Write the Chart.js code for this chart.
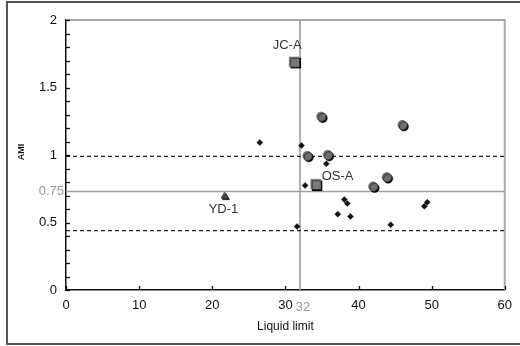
<!DOCTYPE html>
<html><head><meta charset="utf-8">
<script src="https://cdn.jsdelivr.net/npm/chart.js@4/dist/chart.umd.min.js"></script>
<style>html,body{margin:0;padding:0;background:#fff}</style>
</head><body>
<canvas id="c" width="520" height="346"></canvas>
<script>
// ---- data ----
const xTickValues = [0, 10, 20, 30, 40, 50, 60];
const yTickLabels = [0, 0.5, 1, 1.5, 2];
const smallX = [26.5, 32.2, 35.6, 32.7, 38.06, 38.47, 37.16, 38.9, 31.6, 49.0, 49.4, 44.4];
const smallY = [1.092, 1.07, 0.935, 0.774, 0.670, 0.641, 0.562, 0.545, 0.47, 0.62, 0.65, 0.483];
const circleX = [34.9, 46.0, 33.0, 35.8, 43.85, 42.0];
const circleY = [1.285, 1.223, 0.994, 1.001, 0.836, 0.767];
const siteNames = ['JC-A', 'OS-A'];
const siteX = [31.2, 34.15];
const siteY = [1.69, 0.784];
const refNames = ['YD-1'];
const refX = [21.67];
const refY = [0.695];
const vLineValue = 32, vLineLabel = '32';
const hLineValue = 0.73, hLineLabel = '0.75';
const dashUpper = 0.99, dashLower = 0.44;

const FONT = '"Liberation Sans", Arial, sans-serif';
const zip = (xs, ys) => xs.map((x, i) => ({x, y: ys[i]}));

const shadowPlugin = {
  id: 'shadow',
  beforeDatasetDraw(chart, args) {
    const ds = chart.data.datasets[args.index];
    chart.ctx.save();
    if (ds.shadow) {
      chart.ctx.shadowColor = 'rgba(0,0,0,0.95)';
      chart.ctx.shadowOffsetX = 1.5;
      chart.ctx.shadowOffsetY = 1.5;
      chart.ctx.shadowBlur = 0.5;
    }
  },
  afterDatasetDraw(chart) { chart.ctx.restore(); }
};

const decorPlugin = {
  id: 'decor',
  beforeDraw(chart) {
    const c = chart.ctx;
    c.save();
    c.fillStyle = '#fff';
    c.fillRect(0, 0, chart.width, chart.height);
    c.strokeStyle = '#555';
    c.lineWidth = 2;
    c.strokeRect(7, 2, 540, 342);
    c.restore();
  },
  beforeDatasetsDraw(chart) {
    const c = chart.ctx, a = chart.chartArea;
    const xs = chart.scales.x, ys = chart.scales.y;
    c.save();
    // plot frame top/right (gray)
    c.strokeStyle = '#aaa';
    c.lineWidth = 2;
    c.beginPath();
    c.moveTo(a.left, a.top); c.lineTo(a.right, a.top); c.lineTo(a.right, a.bottom);
    c.stroke();
    // reference lines
    c.strokeStyle = '#a0a0a0';
    c.lineWidth = 1.6;
    const vx = xs.getPixelForValue(vLineValue);
    c.beginPath(); c.moveTo(vx, a.top); c.lineTo(vx, a.bottom); c.stroke();
    const hy = ys.getPixelForValue(hLineValue);
    c.beginPath(); c.moveTo(a.left, hy); c.lineTo(a.right, hy); c.stroke();
    c.strokeStyle = '#222';
    c.lineWidth = 1.2;
    c.setLineDash([4, 3]);
    [dashUpper, dashLower].forEach(v => {
      const y = ys.getPixelForValue(v);
      c.beginPath(); c.moveTo(a.left, y); c.lineTo(a.right, y); c.stroke();
    });
    c.setLineDash([]);
    c.restore();
  },
  afterDraw(chart) {
    const c = chart.ctx, a = chart.chartArea;
    const xs = chart.scales.x, ys = chart.scales.y;
    c.save();
    // inward tick marks
    c.strokeStyle = '#111';
    c.lineWidth = 1.3;
    ys.ticks.forEach(t => {
      const y = Math.round(ys.getPixelForValue(t.value)) + 0.5;
      c.beginPath(); c.moveTo(a.left, y); c.lineTo(a.left + 4, y); c.stroke();
    });
    xTickValues.forEach(v => {
      const x = Math.round(xs.getPixelForValue(v)) + 0.5;
      c.beginPath(); c.moveTo(x, a.bottom); c.lineTo(x, a.bottom - 4); c.stroke();
    });
    // gray special tick labels
    c.fillStyle = '#999';
    c.font = '13px ' + FONT;
    c.textAlign = 'right'; c.textBaseline = 'middle';
    c.fillText(hLineLabel, a.left - 2, ys.getPixelForValue(hLineValue));
    c.textAlign = 'center'; c.textBaseline = 'middle';
    c.fillText(vLineLabel, xs.getPixelForValue(vLineValue) + 3, a.bottom + 17);
    // point labels
    c.fillStyle = '#333';
    c.font = '13px ' + FONT;
    c.textAlign = 'center';
    c.fillText(siteNames[0], xs.getPixelForValue(siteX[0]) - 7, ys.getPixelForValue(siteY[0]) - 16);
    c.textAlign = 'left';
    c.fillText(siteNames[1], xs.getPixelForValue(siteX[1]) + 6, ys.getPixelForValue(siteY[1]) - 8);
    c.textAlign = 'center';
    c.fillText(refNames[0], xs.getPixelForValue(refX[0]) - 1, ys.getPixelForValue(refY[0]) + 13);
    // axis titles
    c.fillStyle = '#111';
    c.font = '12px ' + FONT;
    c.fillText('Liquid limit', (a.left + a.right) / 2, a.bottom + 37);
    c.save();
    c.translate(22, ys.getPixelForValue(1) - 3);
    c.rotate(-Math.PI / 2);
    c.font = 'bold 9px ' + FONT;
    c.fillText('AMI', 0, 0);
    c.restore();
    c.restore();
  }
};

new Chart(document.getElementById('c'), {
  type: 'scatter',
  data: {
    datasets: [
      { label: 'small', data: zip(smallX, smallY), pointStyle: 'rectRot', radius: 3,
        backgroundColor: '#111', borderColor: '#111', borderWidth: 0.5 },
      { label: 'circles', data: zip(circleX, circleY), pointStyle: 'circle', radius: 4.6,
        backgroundColor: '#6c6c6c', borderColor: '#5a5a5a', borderWidth: 0.5, shadow: true },
      { label: 'sites', data: zip(siteX, siteY), pointStyle: 'rect', radius: 7,
        backgroundColor: '#7a7a7a', borderColor: '#6a6a6a', borderWidth: 0.5, shadow: true },
      { label: 'ref', data: zip(refX, refY), pointStyle: 'triangle', radius: 4.2,
        backgroundColor: '#555', borderColor: '#333', borderWidth: 0.5, shadow: true }
    ]
  },
  options: {
    responsive: false,
    animation: false,
    devicePixelRatio: 1,
    layout: { padding: { left: 0, right: 15, top: 20, bottom: 0 } },
    plugins: { legend: { display: false }, tooltip: { enabled: false } },
    scales: {
      x: {
        type: 'linear', min: 0, max: 60,
        afterBuildTicks: s => { s.ticks = xTickValues.map(v => ({value: v})); },
        ticks: { color: '#111', font: { family: FONT, size: 13 }, padding: 8, maxRotation: 0 },
        grid: { display: false, drawTicks: false },
        border: { color: '#111', width: 1.5 },
        afterFit: s => { s.height = 56; }
      },
      y: {
        type: 'linear', min: 0, max: 2,
        ticks: {
          stepSize: 0.1, autoSkip: false, color: '#111',
          font: { family: FONT, size: 13 }, padding: 9,
          callback: v => { const r = Math.round(v * 10) / 10; return yTickLabels.includes(r) ? String(r) : ''; }
        },
        grid: { display: false, drawTicks: false },
        border: { color: '#111', width: 1.5 },
        afterFit: s => { s.width = 66; }
      }
    }
  },
  plugins: [shadowPlugin, decorPlugin]
});
</script>
</body></html>
